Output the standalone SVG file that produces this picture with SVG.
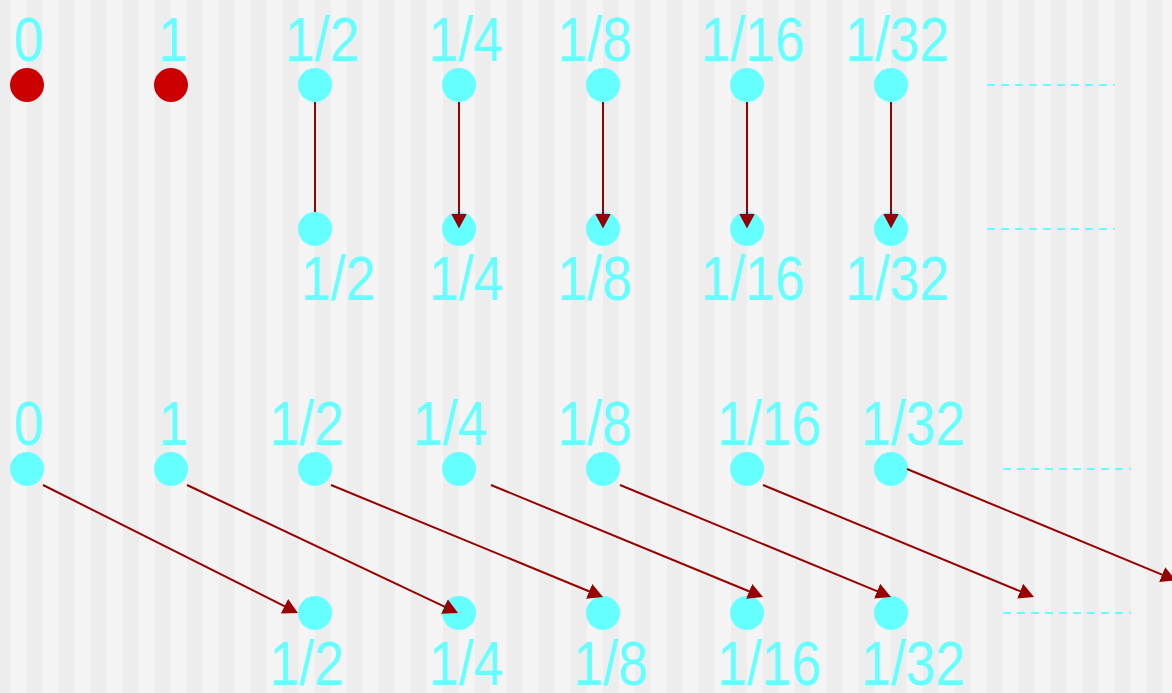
<svg xmlns="http://www.w3.org/2000/svg" width="1172" height="693" viewBox="0 0 1172 693">
<defs>
<pattern id="stripes" patternUnits="userSpaceOnUse" x="11" y="0" width="32" height="693">
<rect x="0" y="0" width="32" height="693" fill="#ededed"/>
<rect x="0" y="0" width="16" height="693" fill="#f4f4f4"/>
</pattern>
<marker id="ah" markerUnits="userSpaceOnUse" markerWidth="16" markerHeight="16" viewBox="0 0 16 16" refX="7" refY="8" orient="auto">
<path d="M0,0 L15,8 L0,16 Z" fill="#990000"/>
</marker>
</defs>
<style>
.lbl{font-family:"Liberation Sans",Arial,sans-serif;font-size:63px;fill:#66ffff;text-anchor:middle}
.cy{fill:#66ffff}
.rd{fill:#cc0000}
.arr{stroke:#990000;stroke-width:2;fill:none;marker-end:url(#ah)}
.dash{stroke:#66ffff;stroke-width:2;stroke-dasharray:8 6;fill:none}
</style>
<rect x="0" y="0" width="1172" height="693" fill="url(#stripes)"/>

<g id="row1">
<g id="r1-0"><circle class="rd" cx="27" cy="85" r="17"/><text class="lbl" transform="translate(29,61) scale(0.85,1)">0</text></g>
<g id="r1-1"><circle class="rd" cx="171" cy="85" r="17"/><text class="lbl" transform="translate(173.5,61) scale(0.85,1)">1</text></g>
<g id="r1-2"><circle class="cy" cx="315" cy="85" r="17"/><text class="lbl" transform="translate(322.5,61) scale(0.85,1)">1/2</text></g>
<g id="r1-4"><circle class="cy" cx="459" cy="85" r="17"/><text class="lbl" transform="translate(466,61) scale(0.85,1)">1/4</text></g>
<g id="r1-8"><circle class="cy" cx="603" cy="85" r="17"/><text class="lbl" transform="translate(595,61) scale(0.85,1)">1/8</text></g>
<g id="r1-16"><circle class="cy" cx="747" cy="85" r="17"/><text class="lbl" transform="translate(753,61) scale(0.85,1)">1/16</text></g>
<g id="r1-32"><circle class="cy" cx="891" cy="85" r="17"/><text class="lbl" transform="translate(897.5,61) scale(0.85,1)">1/32</text></g>
<line id="r1-more" class="dash" x1="987" y1="85" x2="1115" y2="85"/>
</g>

<g id="row2">
<g id="r2-4"><circle class="cy" cx="459" cy="229" r="17"/><text class="lbl" transform="translate(466.5,300) scale(0.85,1)">1/4</text></g>
<g id="r2-8"><circle class="cy" cx="603" cy="229" r="17"/><text class="lbl" transform="translate(595,300) scale(0.85,1)">1/8</text></g>
<g id="r2-16"><circle class="cy" cx="747" cy="229" r="17"/><text class="lbl" transform="translate(753,300) scale(0.85,1)">1/16</text></g>
<g id="r2-32"><circle class="cy" cx="891" cy="229" r="17"/><text class="lbl" transform="translate(897.5,300) scale(0.85,1)">1/32</text></g>
<line id="r2-more" class="dash" x1="987" y1="229" x2="1115" y2="229"/>
</g>

<g id="row3">
<g id="r3-0"><circle class="cy" cx="27" cy="469" r="17"/><text class="lbl" transform="translate(29,445) scale(0.85,1)">0</text></g>
<g id="r3-1"><circle class="cy" cx="171" cy="469" r="17"/><text class="lbl" transform="translate(174,445) scale(0.85,1)">1</text></g>
<g id="r3-2"><circle class="cy" cx="315" cy="469" r="17"/><text class="lbl" transform="translate(307,445) scale(0.85,1)">1/2</text></g>
<g id="r3-4"><circle class="cy" cx="459" cy="469" r="17"/><text class="lbl" transform="translate(450.5,445) scale(0.85,1)">1/4</text></g>
<g id="r3-8"><circle class="cy" cx="603" cy="469" r="17"/><text class="lbl" transform="translate(595,445) scale(0.85,1)">1/8</text></g>
<g id="r3-16"><circle class="cy" cx="747" cy="469" r="17"/><text class="lbl" transform="translate(769.5,445) scale(0.85,1)">1/16</text></g>
<g id="r3-32"><circle class="cy" cx="891" cy="469" r="17"/><text class="lbl" transform="translate(913.5,445) scale(0.85,1)">1/32</text></g>
<line id="r3-more" class="dash" x1="1003" y1="469" x2="1131" y2="469"/>
</g>

<g id="row4">
<g id="r4-2"><circle class="cy" cx="315" cy="613" r="17"/><text class="lbl" transform="translate(307,685) scale(0.85,1)">1/2</text></g>
<g id="r4-4"><circle class="cy" cx="459" cy="613" r="17"/><text class="lbl" transform="translate(466.5,685) scale(0.85,1)">1/4</text></g>
<g id="r4-8"><circle class="cy" cx="603" cy="613" r="17"/><text class="lbl" transform="translate(611,685) scale(0.85,1)">1/8</text></g>
<g id="r4-16"><circle class="cy" cx="747" cy="613" r="17"/><text class="lbl" transform="translate(769.5,685) scale(0.85,1)">1/16</text></g>
<g id="r4-32"><circle class="cy" cx="891" cy="613" r="17"/><text class="lbl" transform="translate(913.5,685) scale(0.85,1)">1/32</text></g>
<line id="r4-more" class="dash" x1="1003" y1="613" x2="1131" y2="613"/>
</g>

<g id="connectors">
<line class="arr" x1="315" y1="102" x2="315" y2="220.5"/>
<line class="arr" x1="459" y1="102" x2="459" y2="220.5"/>
<line class="arr" x1="603" y1="102" x2="603" y2="220.5"/>
<line class="arr" x1="747" y1="102" x2="747" y2="220.5"/>
<line class="arr" x1="891" y1="102" x2="891" y2="220.5"/>
<line class="arr" x1="43" y1="485" x2="290.8" y2="609.4"/>
<line class="arr" x1="187" y1="485" x2="450.8" y2="609.6"/>
<line class="arr" x1="331" y1="485" x2="595.6" y2="594"/>
<line class="arr" x1="491" y1="485" x2="755.6" y2="594"/>
<line class="arr" x1="620" y1="485" x2="883.6" y2="593.9"/>
<line class="arr" x1="763" y1="485" x2="1026.6" y2="593.9"/>
<line class="arr" x1="907" y1="469" x2="1168.6" y2="577.4"/>
</g>

<g id="r2-2"><circle class="cy" cx="315" cy="229" r="17"/><text class="lbl" transform="translate(338.5,300) scale(0.85,1)">1/2</text></g>
</svg>
